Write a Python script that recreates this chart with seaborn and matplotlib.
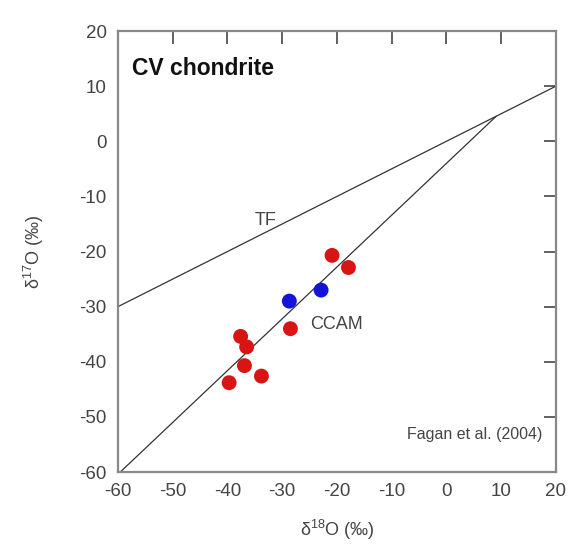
import matplotlib
matplotlib.use("Agg")
import matplotlib.pyplot as plt
import seaborn as sns
import numpy as np
import pandas as pd

# CV chondrite oxygen isotope data (Fagan et al. 2004)
d18O = [-20.9, -17.9, -22.9, -28.7, -28.5, -37.6, -36.5, -36.9, -33.8, -39.7]
d17O = [-20.7, -22.9, -27.0, -29.0, -34.0, -35.4, -37.3, -40.7, -42.6, -43.8]
group = ["red", "red", "blue", "blue", "red", "red", "red", "red", "red", "red"]

x_ticks = [-60, -50, -40, -30, -20, -10, 0, 10, 20]
y_ticks = [-60, -50, -40, -30, -20, -10, 0, 10, 20]

# reference lines: terrestrial fractionation and CCAM
tf_slope, tf_icpt = 0.5, 0.0
ccam_slope, ccam_icpt = 0.94, -4.0

sns.set_theme(style="white")
plt.rcParams["font.family"] = ["Liberation Sans", "DejaVu Sans"]

fig = plt.figure(figsize=(5.82, 5.5), dpi=100)
ax = fig.add_axes([0.2027, 0.1418, 0.7526, 0.8018])

df = pd.DataFrame({"d18O": d18O, "d17O": d17O, "group": group})

# TF line across the whole range
xs_tf = np.array([-60, 20])
ax.plot(xs_tf, tf_slope * xs_tf + tf_icpt, color="#333333", lw=0.9, zorder=1)
# CCAM line up to where it meets TF
x_int = (tf_icpt - ccam_icpt) / (ccam_slope - tf_slope)
xs_cc = np.array([-60, x_int])
ax.plot(xs_cc, ccam_slope * xs_cc + ccam_icpt, color="#333333", lw=0.9, zorder=1)

sns.scatterplot(data=df, x="d18O", y="d17O", hue="group",
                palette={"red": "#d81414", "blue": "#1414d8"},
                s=115, edgecolor="none", legend=False, ax=ax, zorder=3)

ax.set_xlim(-60, 20)
ax.set_ylim(-60, 20)
ax.set_xticks(x_ticks)
ax.set_yticks(y_ticks)
ax.set_xticklabels([str(t) for t in x_ticks])
ax.set_yticklabels([str(t) for t in y_ticks])

ax.tick_params(axis="both", direction="in", length=9, width=1.3,
               color="#555555", labelsize=13.5, labelcolor="#444444",
               top=True, right=True, pad=8)
for sp in ax.spines.values():
    sp.set_color("#888888")
    sp.set_linewidth(1.6)

ax.set_xlabel(r"$\mathregular{\delta^{18}}$O (‰)", fontsize=13, color="#444444", labelpad=13)
ax.set_ylabel(r"$\mathregular{\delta^{17}}$O (‰)", fontsize=13, color="#444444", labelpad=24)

ax.text(-57.5, 13.2, "CV chondrite", fontsize=16.5, fontweight="bold",
        color="#111111", ha="left", va="center")
ax.text(-33, -14.3, "TF", fontsize=13, color="#444444", ha="center", va="center")
ax.text(-20, -33.2, "CCAM", fontsize=13, color="#444444", ha="center", va="center")
ax.text(17.5, -53.2, "Fagan et al. (2004)", fontsize=11.5, color="#444444",
        ha="right", va="center")

fig.savefig("out.png", dpi=100, facecolor="white")
